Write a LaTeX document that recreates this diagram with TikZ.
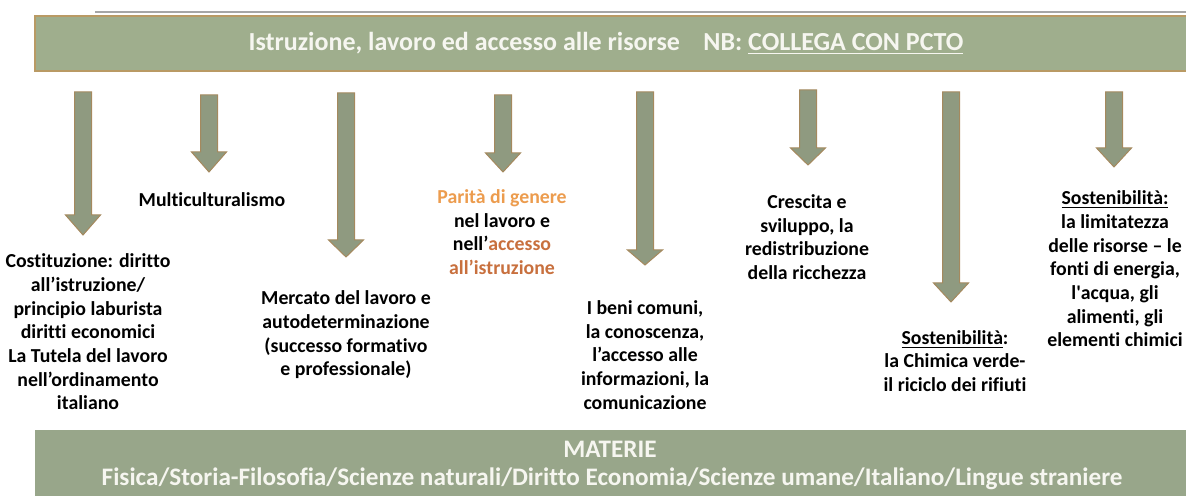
\documentclass[tikz,border=0pt]{standalone}
\usepackage{fontspec}
\setmainfont[Ligatures={TeX,NoCommon}]{Carlito}
\usepackage{xcolor}
\definecolor{barfill}{HTML}{9FAE8D}
\definecolor{barrim}{HTML}{B99A64}
\definecolor{arrowfill}{HTML}{8F9A80}
\definecolor{arrowrim}{HTML}{A5895E}
\definecolor{lowbar}{HTML}{98A68A}
\definecolor{ruleline}{HTML}{A6A6A6}
\definecolor{paritaorange}{HTML}{EC9C4E}
\definecolor{accessorust}{HTML}{C8703E}
\definecolor{bartext}{HTML}{F6F6F0}
% block arrow: centre x, top, base of head, tip
\newcommand{\blockarrow}[4]{%
  \draw[arrowbody] (#1-8.5,#2) -- (#1+8.5,#2) -- (#1+8.5,#3) -- (#1+17.5,#3)
    -- (#1,#4) -- (#1-17.5,#3) -- (#1-8.5,#3) -- cycle;
}

\begin{document}
\begin{tikzpicture}[x=0.5pt, y=-0.5pt,
  arrowbody/.style={fill=arrowfill, draw=arrowrim, line width=0.5pt},
  topictext/.style={font=\fontsize{9.9}{11.85}\selectfont\bfseries, align=center, inner sep=0pt, text=black},
  bartitle/.style={font=\fontsize{13}{15}\selectfont\bfseries, text=bartext, inner sep=0pt},
  subjtext/.style={font=\fontsize{12.6}{14}\selectfont\bfseries, text=bartext, inner sep=0pt}]

  \useasboundingbox (0,0) rectangle (1186,496);

  %% top rule and title bar
  \draw[ruleline, line width=0.6pt] (95,12) -- (1187,12);
  \path[fill=barfill, draw=barrim, line width=0.8pt] (35,16) rectangle (1190,71);
  \node[bartitle] (title) at (606,43)
    {Istruzione, lavoro ed accesso alle risorse\hspace{0.9em}NB: \underline{COLLEGA CON PCTO}};

  %% arrows
  \blockarrow{83}{92}{215}{235}
  \blockarrow{209}{95}{152}{172}
  \blockarrow{346}{93}{240}{257}
  \blockarrow{503}{95}{153}{172}
  \blockarrow{645}{92}{250}{265}
  \blockarrow{808}{90}{148}{165}
  \blockarrow{951}{92}{283}{302}
  \blockarrow{1114}{92}{148}{167}

  %% topics
  \node[topictext] (costituzione) at (88,332)
    {Costituzione: diritto\\ all’istruzione/\\ principio laburista\\ diritti economici\\ La Tutela del lavoro\\ nell’ordinamento\\ italiano};
  \node[topictext] (multicult) at (212,200) {Multiculturalismo};
  \node[topictext] (mercato) at (346,335)
    {Mercato del lavoro e\\ autodeterminazione\\ (successo formativo\\ e professionale)};
  \node[topictext] (parita) at (502,232)
    {\textcolor{paritaorange}{Parità di genere}\\ nel lavoro e\\ nell’\textcolor{accessorust}{accesso}\\ \textcolor{accessorust}{all’istruzione}};
  \node[topictext] (beni) at (645,355)
    {I beni comuni,\\ la conoscenza,\\ l’accesso alle\\ informazioni, la\\ comunicazione};
  \node[topictext] (crescita) at (807,237)
    {Crescita e\\ sviluppo, la\\ redistribuzione\\ della ricchezza};
  \node[topictext] (chimica) at (955,361)
    {\underline{Sostenibilità}:\\ la Chimica verde-\\ il riciclo dei rifiuti};
  \node[topictext] (risorse) at (1115,269)
    {\underline{Sostenibilità:}\\ la limitatezza\\ delle risorse – le\\ fonti di energia,\\ l\textquotesingle acqua, gli\\ alimenti, gli\\ elementi chimici};

  %% subjects bar
  \path[fill=lowbar] (35,430) rectangle (1187,497);
  \node[subjtext] (materie) at (610,449) {MATERIE};
  \node[subjtext] (elenco) at (612,479)
    {Fisica/Storia-Filosofia/Scienze naturali/Diritto Economia/Scienze umane/Italiano/Lingue straniere};

\end{tikzpicture}
\end{document}
